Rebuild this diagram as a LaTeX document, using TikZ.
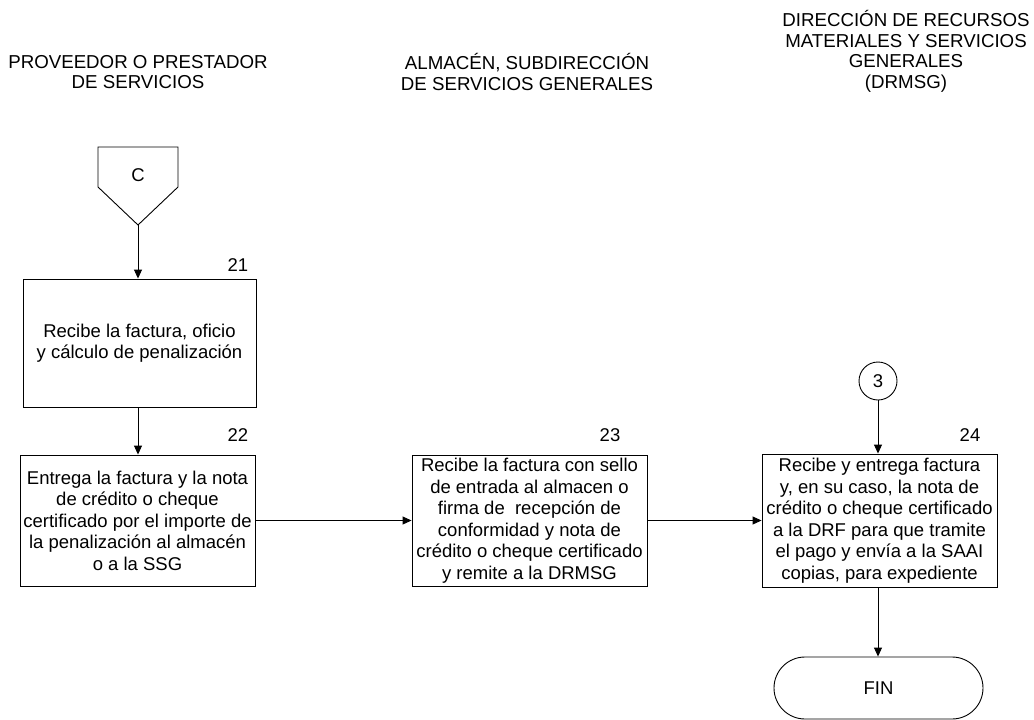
\documentclass[tikz,border=0pt]{standalone}
\usepackage{fontspec}
\setmainfont{Liberation Sans}
\usetikzlibrary{arrows.meta,shapes.misc}
\begin{document}
\begin{tikzpicture}[x=1pt,y=-1pt,
  every node/.style={font=\fontsize{18.5}{21.5}\selectfont, inner sep=0pt},
  line/.style={draw=black, line width=0.9pt},
  flow/.style={line, -{Triangle[length=9pt,width=8pt]}},
  procbox/.style={line, rectangle, align=center},
  lbl/.style={align=center},
  header/.style={align=center, font=\fontsize{18.7}{20.5}\selectfont}]
\useasboundingbox (0,0) rectangle (1034,720);

% Column headers
\node[header] (h1) at (138,72) {PROVEEDOR O PRESTADOR\\DE SERVICIOS};
\node[header] (h2) at (527,72) {ALMACÉN, SUBDIRECCIÓN\\DE SERVICIOS GENERALES};
\node[header] (h3) at (906,51.5) {DIRECCIÓN DE RECURSOS\\MATERIALES Y SERVICIOS\\GENERALES\\(DRMSG)};

% Off-page connector C
\draw[line] (98,147) -- (178,147) -- (178,187) -- (138,225) -- (98,187) -- cycle;
\node (cl) at (138,175) {C};
\coordinate (ctip) at (138,225);

% Process boxes
\node[procbox, minimum width=233pt, minimum height=128pt] (b21) at (139.5,343)
  {Recibe la factura, oficio\\y cálculo de penalización};
\node[procbox, minimum width=235pt, minimum height=131pt] (b22) at (137.5,520.5)
  {Entrega la factura y la nota\\de crédito o cheque\\certificado por el importe de\\la penalización al almacén\\o a la SSG};
\node[procbox, minimum width=235pt, minimum height=131pt] (b23) at (529.5,520.5)
  {Recibe la factura con sello\\de entrada al almacen o\\firma de \ recepción de\\conformidad y nota de\\crédito o cheque certificado\\y remite a la DRMSG};
\node[procbox, minimum width=235pt, minimum height=133pt] (b24) at (879.5,520.5)
  {Recibe y entrega factura\\y, en su caso, la nota de\\crédito o cheque certificado\\a la DRF para que tramite\\el pago y envía a la SAAI\\copias, para expediente};

% Step numbers
\node[lbl] (n21) at (238,265) {21};
\node[lbl] (n22) at (238,435) {22};
\node[lbl] (n23) at (610,435) {23};
\node[lbl] (n24) at (970,435) {24};

% On-page connector 3
\node[line, circle, minimum size=38pt] (c3) at (878,381) {3};

% Terminal
\node[line, rounded rectangle, minimum width=209pt, minimum height=62pt] (fin) at (878.5,688) {FIN};

% Connectors
\draw[flow] (ctip) -- (b21.north -| ctip);
\draw[flow] (b21.south -| ctip) -- (b22.north -| ctip);
\draw[flow] (b22.east) -- (b23.west);
\draw[flow] (b23.east) -- (b24.west);
\draw[flow] (c3.south) -- (b24.north -| c3.south);
\draw[flow] (b24.south -| c3.south) -- (fin.north -| c3.south);
\end{tikzpicture}
\end{document}
